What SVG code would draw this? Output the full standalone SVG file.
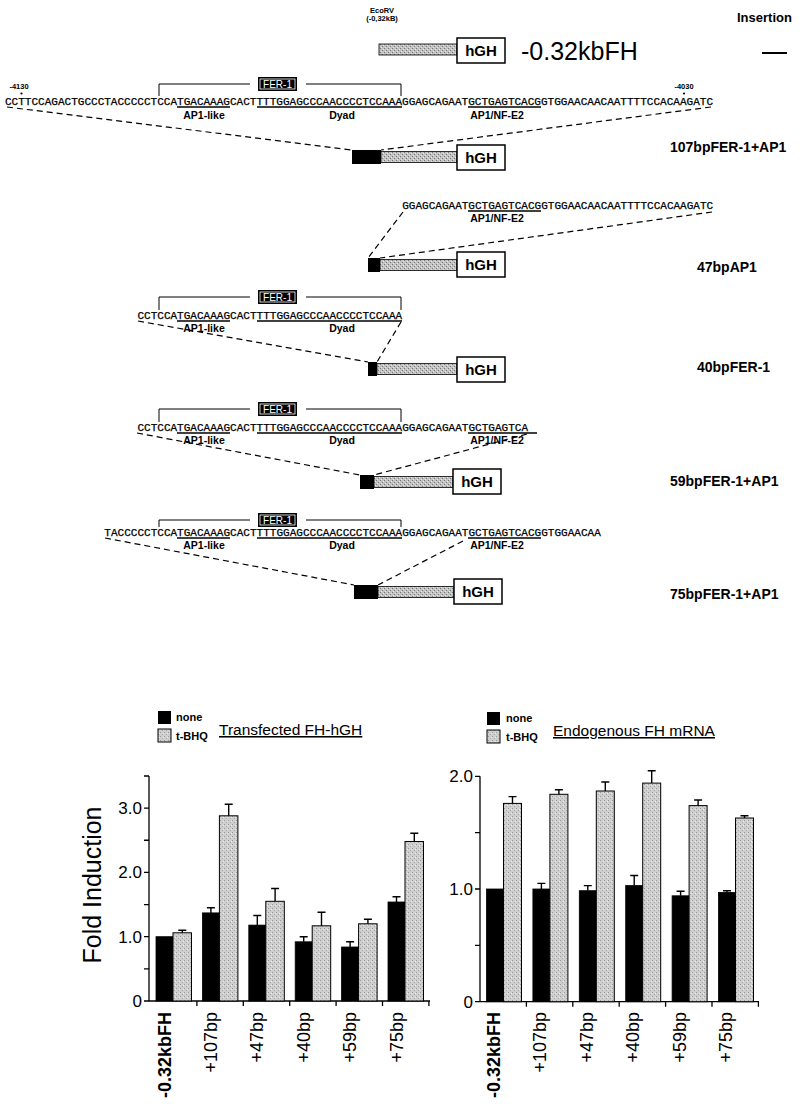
<svg xmlns="http://www.w3.org/2000/svg" width="800" height="1107" viewBox="0 0 800 1107">
<defs>
<pattern id="st" width="4" height="4" patternUnits="userSpaceOnUse">
<rect width="4" height="4" fill="#c2c2c2"/>
<rect x="0" y="0" width="1" height="1" fill="#777"/>
<rect x="2" y="2" width="1" height="1" fill="#777"/>
<rect x="1" y="3" width="1" height="1" fill="#e8e8e8"/>
<rect x="3" y="1" width="1" height="1" fill="#e8e8e8"/>
</pattern>
<pattern id="stb" width="4" height="4" patternUnits="userSpaceOnUse">
<rect width="4" height="4" fill="#cfcfcf"/>
<rect x="0" y="0" width="1" height="1" fill="#9a9a9a"/>
<rect x="2" y="2" width="1" height="1" fill="#a8a8a8"/>
<rect x="3" y="1" width="1" height="1" fill="#ececec"/>
</pattern>
</defs>
<style>
.seq{font-family:"Liberation Mono","DejaVu Sans Mono",monospace;font-size:11px;fill:#000;stroke:#000;stroke-width:0.25}
.lab{font-family:"Liberation Sans",Arial,sans-serif;font-weight:bold;font-size:10.5px;text-anchor:middle}
.sm{font-family:"Liberation Sans",Arial,sans-serif;font-weight:bold;font-size:7.5px;text-anchor:middle}
.ul{stroke:#000;stroke-width:1.3}
.br{fill:none;stroke:#000;stroke-width:1}
.dash{fill:none;stroke:#000;stroke-width:1.2;stroke-dasharray:6 4}
.ins{fill:#000}
.stp{fill:url(#st);stroke:#000;stroke-width:0.8}
.hgh{fill:#fff;stroke:#000;stroke-width:1.5}
.hght{font-family:"Liberation Sans",Arial,sans-serif;font-weight:bold;font-size:15px;text-anchor:middle}
.cl{font-family:"Liberation Sans",Arial,sans-serif;font-weight:bold;font-size:14px}
.ferb{fill:#000}
.feri{fill:none;stroke:#fff;stroke-width:0.8}
.fert{font-family:"Liberation Sans",Arial,sans-serif;font-size:10px;fill:#fff;text-anchor:middle}
.ax{stroke:#000;stroke-width:1.3;fill:none}
.num{font-family:"Liberation Sans",Arial,sans-serif;font-size:17px;text-anchor:end}
.bk{fill:#000;stroke:#000;stroke-width:0.8}
.gr{fill:url(#stb);stroke:#000;stroke-width:1}
.err{stroke:#000;stroke-width:1.4;fill:none}
.xl{font-family:"Liberation Sans",Arial,sans-serif;font-size:18px;text-anchor:end}
.leg{font-family:"Liberation Sans",Arial,sans-serif;font-weight:bold;font-size:11px}
.ttl{font-family:"Liberation Sans",Arial,sans-serif;font-size:15.5px;text-decoration:underline}
</style>

<g id="header">
<text class="sm" x="382" y="13">EcoRV</text>
<text class="sm" x="382" y="21">(-0,32kB)</text>
<rect class="stp" x="379" y="44" width="78" height="11"/>
<rect class="hgh" x="457" y="38" width="48" height="25"/>
<text class="hght" x="481" y="56">hGH</text>
<text x="521" y="60" font-family="Liberation Sans, Arial, sans-serif" font-size="25">-0.32kbFH</text>
<text x="737" y="22" font-family="Liberation Sans, Arial, sans-serif" font-size="13" font-weight="bold">Insertion</text>
<line x1="762" y1="53" x2="787" y2="53" stroke="#000" stroke-width="2"/>
</g>

<g id="seq107">
<text class="sm" x="19" y="89">-4130</text>
<circle cx="21.5" cy="93.5" r="1.1"/>
<text class="sm" x="684" y="89">-4030</text>
<circle cx="684" cy="93.5" r="1.1"/>
<path class="br" d="M159,96 V84 H250 M306,84 H401 V96"/>
<rect class="ferb" x="258" y="77" width="39" height="14"/>
<rect class="feri" x="260" y="79" width="35" height="10"/>
<text class="fert" x="277.5" y="88">FER-1</text>
<text class="seq" x="5" y="104.5" textLength="708" lengthAdjust="spacing">CCTTCCAGACTGCCCTACCCCCTCCATGACAAAGCACTTTTGGAGCCCAACCCCTCCAAAGGAGCAGAATGCTGAGTCACGGTGGAACAACAATTTTCCACAAGATC</text>
<line class="ul" x1="177" y1="107" x2="230" y2="107"/>
<line class="ul" x1="257" y1="107" x2="402" y2="107"/>
<line class="ul" x1="468" y1="107" x2="541" y2="107"/>
<text class="lab" x="204" y="119">AP1-like</text>
<text class="lab" x="342" y="119">Dyad</text>
<text class="lab" x="497" y="119">AP1/NF-E2</text>
</g>
<g id="c107">
<rect class="ins" x="352" y="150" width="29" height="14"/>
<rect class="stp" x="381" y="151.5" width="76" height="11"/>
<rect class="hgh" x="457" y="145" width="48" height="25"/>
<text class="hght" x="481" y="163">hGH</text>
<text class="cl" x="670" y="152">107bpFER-1+AP1</text>
</g>

<g id="c47">
<text class="seq" x="402.2" y="208.5" textLength="311" lengthAdjust="spacing">GGAGCAGAATGCTGAGTCACGGTGGAACAACAATTTTCCACAAGATC</text>
<line class="ul" x1="468" y1="211" x2="541" y2="211"/>
<text class="lab" x="497" y="222">AP1/NF-E2</text>
<rect class="ins" x="368" y="258" width="12" height="14"/>
<rect class="stp" x="380" y="259.5" width="77" height="11"/>
<rect class="hgh" x="457" y="252" width="48" height="25"/>
<text class="hght" x="481" y="270">hGH</text>
<text class="cl" x="697" y="272">47bpAP1</text>
</g>

<g id="c40">
<path class="br" d="M159,310 V297 H250 M306,297 H401 V310"/>
<rect class="ferb" x="258" y="290" width="39" height="14"/>
<rect class="feri" x="260" y="292" width="35" height="10"/>
<text class="fert" x="277.5" y="301">FER-1</text>
<text class="seq" x="137.4" y="318.5" textLength="264.8" lengthAdjust="spacing">CCTCCATGACAAAGCACTTTTGGAGCCCAACCCCTCCAAA</text>
<line class="ul" x1="177" y1="321" x2="230" y2="321"/>
<line class="ul" x1="257" y1="321" x2="402" y2="321"/>
<text class="lab" x="204" y="332">AP1-like</text>
<text class="lab" x="342" y="332">Dyad</text>
<rect class="ins" x="368" y="362" width="9" height="14"/>
<rect class="stp" x="377" y="363.5" width="80" height="11"/>
<rect class="hgh" x="457" y="357" width="48" height="25"/>
<text class="hght" x="481" y="375">hGH</text>
<text class="cl" x="697" y="372">40bpFER-1</text>
</g>

<g id="c59">
<path class="br" d="M159,422 V409 H250 M306,409 H401 V422"/>
<rect class="ferb" x="258" y="402" width="39" height="14"/>
<rect class="feri" x="260" y="404" width="35" height="10"/>
<text class="fert" x="277.5" y="413">FER-1</text>
<text class="seq" x="137.4" y="430.5" textLength="390.6" lengthAdjust="spacing">CCTCCATGACAAAGCACTTTTGGAGCCCAACCCCTCCAAAGGAGCAGAATGCTGAGTCA</text>
<line class="ul" x1="177" y1="433" x2="230" y2="433"/>
<line class="ul" x1="257" y1="433" x2="402" y2="433"/>
<line class="ul" x1="468" y1="433" x2="537" y2="433"/>
<text class="lab" x="204" y="444">AP1-like</text>
<text class="lab" x="342" y="444">Dyad</text>
<text class="lab" x="497" y="444">AP1/NF-E2</text>
<rect class="ins" x="360" y="475" width="14" height="14"/>
<rect class="stp" x="374" y="476.5" width="79" height="11"/>
<rect class="hgh" x="453" y="469" width="48" height="25"/>
<text class="hght" x="477" y="487">hGH</text>
<text class="cl" x="670" y="486">59bpFER-1+AP1</text>
</g>

<g id="c75">
<path class="br" d="M159,527 V520 H250 M306,520 H401 V527"/>
<rect class="ferb" x="258" y="513" width="39" height="14"/>
<rect class="feri" x="260" y="515" width="35" height="10"/>
<text class="fert" x="277.5" y="524">FER-1</text>
<text class="seq" x="104.3" y="535.5" textLength="496.5" lengthAdjust="spacing">TACCCCCTCCATGACAAAGCACTTTTGGAGCCCAACCCCTCCAAAGGAGCAGAATGCTGAGTCACGGTGGAACAA</text>
<line class="ul" x1="177" y1="538" x2="230" y2="538"/>
<line class="ul" x1="257" y1="538" x2="402" y2="538"/>
<line class="ul" x1="468" y1="538" x2="541" y2="538"/>
<text class="lab" x="204" y="549">AP1-like</text>
<text class="lab" x="342" y="549">Dyad</text>
<text class="lab" x="497" y="549">AP1/NF-E2</text>
<rect class="ins" x="354" y="585" width="24" height="14"/>
<rect class="stp" x="378" y="586.5" width="76" height="11"/>
<rect class="hgh" x="454" y="579" width="48" height="25"/>
<text class="hght" x="478" y="597">hGH</text>
<text class="cl" x="670" y="599">75bpFER-1+AP1</text>
</g>

<g id="connectors">
<path class="dash" d="M7,107 L352,150"/>
<path class="dash" d="M711,107 L381,150"/>
<path class="dash" d="M403,212 L368,258"/>
<path class="dash" d="M712,212 L380,258"/>
<path class="dash" d="M138,321 L368,362"/>
<path class="dash" d="M401,322 L377,362"/>
<path class="dash" d="M137,433 L360,475"/>
<path class="dash" d="M527,434 L374,475"/>
<path class="dash" d="M105,538 L354,585"/>
<path class="dash" d="M463,541 L378,585"/>
</g>

<g id="legend-left">
<rect x="158" y="711" width="13" height="13" fill="#000"/>
<rect x="158" y="729" width="13" height="13" class="gr"/>
<text class="leg" x="176" y="721">none</text>
<text class="leg" x="176" y="740">t-BHQ</text>
<text class="ttl" x="219" y="735">Transfected FH-hGH</text>
</g>
<g id="legend-right">
<rect x="487" y="712" width="13" height="13" fill="#000"/>
<rect x="487" y="730" width="13" height="13" class="gr"/>
<text class="leg" x="506" y="722">none</text>
<text class="leg" x="506" y="741">t-BHQ</text>
<text class="ttl" x="553" y="736">Endogenous FH mRNA</text>
</g>

<g id="chart-left">
<text transform="translate(101,885) rotate(-90)" text-anchor="middle" font-family="Liberation Sans, Arial, sans-serif" font-size="25">Fold Induction</text>
<path class="ax" d="M149,776 V1001 H430 M144,776 H149 M144,808.1 H149 M144,840.25 H149 M144,872.4 H149 M144,904.55 H149 M144,936.7 H149 M144,968.85 H149 M144,1001 H149 M196.9,1001 V1006 M243.3,1001 V1006 M289.7,1001 V1006 M336.1,1001 V1006 M382.5,1001 V1006 M428.9,1001 V1006"/>
<text class="num" x="142" y="1007">0</text>
<text class="num" x="142" y="943">1.0</text>
<text class="num" x="142" y="878">2.0</text>
<text class="num" x="142" y="814">3.0</text>
<rect class="bk" x="156" y="936.7" width="17" height="64.3"/>
<rect class="gr" x="173" y="932.8" width="18.5" height="68.2"/>
<rect class="bk" x="202.4" y="912.9" width="17" height="88.1"/>
<rect class="gr" x="219.4" y="815.8" width="18.5" height="185.2"/>
<rect class="bk" x="248.8" y="925.1" width="17" height="75.9"/>
<rect class="gr" x="265.8" y="901.3" width="18.5" height="99.7"/>
<rect class="bk" x="295.2" y="941.8" width="17" height="59.2"/>
<rect class="gr" x="312.2" y="925.8" width="18.5" height="75.2"/>
<rect class="bk" x="341.6" y="947" width="17" height="54"/>
<rect class="gr" x="358.6" y="923.8" width="18.5" height="77.2"/>
<rect class="bk" x="388" y="902" width="17" height="99"/>
<rect class="gr" x="405" y="841.5" width="18.5" height="159.5"/>
<path class="err" d="M182.3,932.8 V930.3 M178.3,930.3 H186.3 M210.9,912.9 V907.8 M206.9,907.8 H214.9 M228.7,815.8 V804.2 M224.7,804.2 H232.7 M257.3,925.1 V915.5 M253.3,915.5 H261.3 M275.1,901.3 V888.5 M271.1,888.5 H279.1 M303.7,941.8 V936.7 M299.7,936.7 H307.7 M321.5,925.8 V912.3 M317.5,912.3 H325.5 M350.1,947 V941.8 M346.1,941.8 H354.1 M367.9,923.8 V919.3 M363.9,919.3 H371.9 M396.5,902 V896.8 M392.5,896.8 H400.5 M414.3,841.5 V833.2 M410.3,833.2 H418.3"/>
<text class="xl" font-weight="bold" transform="translate(170.5,1012) rotate(-90)">-0.32kbFH</text>
<text class="xl" transform="translate(216.9,1012) rotate(-90)">+107bp</text>
<text class="xl" transform="translate(263.3,1012) rotate(-90)">+47bp</text>
<text class="xl" transform="translate(309.7,1012) rotate(-90)">+40bp</text>
<text class="xl" transform="translate(356.1,1012) rotate(-90)">+59bp</text>
<text class="xl" transform="translate(402.5,1012) rotate(-90)">+75bp</text>
</g>

<g id="chart-right">
<path class="ax" d="M480,776.3 V1001.7 H759 M475,776.3 H480 M475,832.65 H480 M475,889 H480 M475,945.35 H480 M475,1001.7 H480 M526.4,1001.7 V1006.7 M572.8,1001.7 V1006.7 M619.2,1001.7 V1006.7 M665.6,1001.7 V1006.7 M712,1001.7 V1006.7 M758.4,1001.7 V1006.7"/>
<text class="num" x="473" y="1008">0</text>
<text class="num" x="473" y="895">1.0</text>
<text class="num" x="473" y="782">2.0</text>
<rect class="bk" x="486.5" y="889" width="17" height="112.7"/>
<rect class="gr" x="503.5" y="803.4" width="18" height="198.3"/>
<rect class="bk" x="532.9" y="889" width="17" height="112.7"/>
<rect class="gr" x="549.9" y="794.3" width="18" height="207.4"/>
<rect class="bk" x="579.3" y="890.7" width="17" height="111"/>
<rect class="gr" x="596.3" y="791" width="18" height="210.7"/>
<rect class="bk" x="625.7" y="885.6" width="17" height="116.1"/>
<rect class="gr" x="642.7" y="783.1" width="18" height="218.6"/>
<rect class="bk" x="672.1" y="895.8" width="17" height="105.9"/>
<rect class="gr" x="689.1" y="805.6" width="18" height="196.1"/>
<rect class="bk" x="718.5" y="892.4" width="17" height="109.3"/>
<rect class="gr" x="735.5" y="818" width="18" height="183.7"/>
<path class="err" d="M512.5,803.4 V796.6 M508.5,796.6 H516.5 M541.4,889 V883.4 M537.4,883.4 H545.4 M558.9,794.3 V789.8 M554.9,789.8 H562.9 M587.8,890.7 V885.6 M583.8,885.6 H591.8 M605.3,791 V782 M601.3,782 H609.3 M634.2,885.6 V875.5 M630.2,875.5 H638.2 M651.7,783.1 V770.7 M647.7,770.7 H655.7 M680.6,895.8 V891.3 M676.6,891.3 H684.6 M698.1,805.6 V800 M694.1,800 H702.1 M727,892.4 V890.7 M723,890.7 H731 M744.5,818 V815.7 M740.5,815.7 H748.5"/>
<text class="xl" font-weight="bold" transform="translate(500,1012) rotate(-90)">-0.32kbFH</text>
<text class="xl" transform="translate(546.4,1012) rotate(-90)">+107bp</text>
<text class="xl" transform="translate(592.8,1012) rotate(-90)">+47bp</text>
<text class="xl" transform="translate(639.2,1012) rotate(-90)">+40bp</text>
<text class="xl" transform="translate(685.6,1012) rotate(-90)">+59bp</text>
<text class="xl" transform="translate(732,1012) rotate(-90)">+75bp</text>
</g>
</svg>
